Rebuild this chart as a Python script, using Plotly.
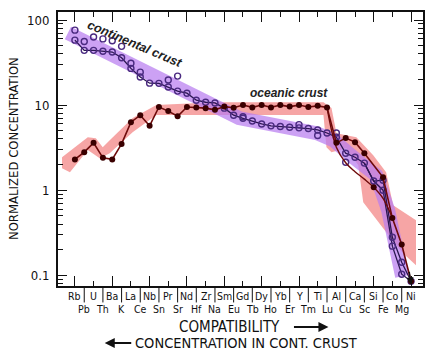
import math
import plotly.graph_objects as go

# ---------------- data ----------------
elements = ["Rb", "Pb", "U", "Th", "Ba", "K", "La", "Ce", "Nb", "Sn", "Pr", "Sr", "Nd", "Hf",
            "Zr", "Na", "Sm", "Eu", "Gd", "Tb", "Dy", "Ho", "Yb", "Er", "Y", "Tm", "Ti", "Lu",
            "Al", "Cu", "Ca", "Sc", "Si", "Fe", "Co", "Mg", "Ni"]

# continental crust (open circles, main line)
cont_line = [58, 44, 44, 43, 42, 36, 27, 21.4, 18.1, 18, 16.3, 14.6, 13.8, 11.4,
             10.8, 10.6, 9.2, 7.6, 7.0, 6.5, 6.0, 5.7, 5.6, 5.5, 5.4, 5.3, 5.1, 4.7,
             4.2, 2.72, 2.44, 2.08, 1.28, 1.31, 0.28, 0.142, 0.085]
# additional continental estimates (open circles off the line)
cont_extra = [76, 56, 63, 60, 57, 49, 31, 24.4, None, None, 19.7, 21.9, None, None,
              None, None, None, None, 7.3, None, None, None, None, None, 5.9, None, 4.4, None,
              4.7, 2.13, None, None, None, 1.0, 0.22, 0.103, None]
# secondary continental branch (lower right)
cont_alt = [None] * 31 + [2.08, 1.28, 1.0, 0.22, 0.103, 0.085]

# oceanic crust (filled dots, main line)
ocean_line = [2.3, 2.8, 3.6, 2.4, 2.3, 3.5, 6.3, 7.6, 5.7, 9.5, 8.5, 7.4, 9.5, 9.4,
              9.2, 8.8, 9.6, 9.3, 10.0, 9.4, 10.0, 9.4, 10.0, 9.6, 10.0, 9.5, 9.8, 9.4,
              3.6, 4.1, 3.67, 2.72, None, 1.42, 0.47, 0.23, 0.085]
# secondary oceanic branch (lower right)
ocean_alt = [None] * 27 + [9.4, 3.2, 2.1, 1.65, 1.35, 1.08, 0.8, 0.47, None, None]
ocean_alt_pts = [None] * 32 + [1.08, None, None, None, None]

# shaded fields (element index position, concentration)
pink_upper_x = [-1.38, 1.38, 2.24, 2.98, 3.73, 6.18, 8.73, 14.91, 26.62, 27.48, 28.01, 30.14,
                31.95, 33.33, 34.08, 36.53]
pink_upper_y = [2.44, 4.2, 4.09, 3.2, 3.87, 7.03, 10.0, 10.8, 10.8, 9.22, 4.68, 4.2,
                2.58, 1.63, 0.667, 0.444]
pink_lower_x = [36.53, 35.14, 33.01, 30.88, 30.35, 29.07, 27.48, 26.94, 26.62, 8.73, 6.18,
                3.73, 2.66, 1.38, -0.53, -1.38]
pink_lower_y = [0.131, 0.181, 0.357, 0.723, 1.97, 3.12, 2.8, 3.2, 7.63, 7.63, 4.81,
                2.72, 2.38, 2.96, 1.63, 1.81]

purple_x = [-0.75, 6.82, 14.70, 17.57, 25.88, 27.69, 29.82, 32.27, 33.55, 34.40, 35.04]
purple_y = [70.3, 27.2, 10.8, 7.03, 4.68, 3.87, 2.44, 1.5, 0.58, 0.172, 0.097]

y_ticks = [0.1, 1, 10, 100]
y_ticktext = ["0.1", "1", "10", "100"]

# ---------------- styling ----------------
FONT = "DejaVu Sans Condensed, Liberation Sans Narrow, Roboto Condensed, DejaVu Sans, sans-serif"
idx = list(range(len(elements)))
CONT_COL = "#2a1650"
OCEAN_COL = "#6e0a0a"

fig = go.Figure()

fig.add_trace(go.Scatter(
    x=pink_upper_x + pink_lower_x, y=pink_upper_y + pink_lower_y,
    mode="lines", fill="toself", fillcolor="rgba(244,140,140,0.78)",
    line=dict(width=0), hoverinfo="skip", showlegend=False))

fig.add_trace(go.Scatter(
    x=purple_x, y=purple_y, mode="lines",
    line=dict(color="rgba(185,125,240,0.72)", width=14),
    hoverinfo="skip", showlegend=False))

# continental
fig.add_trace(go.Scatter(x=idx, y=cont_alt, mode="lines",
                         line=dict(color=CONT_COL, width=1.3), showlegend=False))
fig.add_trace(go.Scatter(x=idx, y=cont_line, mode="lines+markers",
                         line=dict(color=CONT_COL, width=1.3),
                         marker=dict(symbol="circle-open", size=6, color="#4a2a80",
                                     line=dict(width=1.4)),
                         showlegend=False))
fig.add_trace(go.Scatter(x=idx, y=cont_extra, mode="markers",
                         marker=dict(symbol="circle-open", size=6, color="#4a2a80",
                                     line=dict(width=1.4)),
                         showlegend=False))

# oceanic
fig.add_trace(go.Scatter(x=idx, y=ocean_alt, mode="lines", line_shape="spline",
                         line=dict(color=OCEAN_COL, width=1.4), showlegend=False))
fig.add_trace(go.Scatter(x=idx, y=ocean_line, mode="lines+markers", connectgaps=True,
                         line=dict(color=OCEAN_COL, width=1.6),
                         marker=dict(symbol="circle", size=6, color="#3a0000"),
                         showlegend=False))
fig.add_trace(go.Scatter(x=idx, y=ocean_alt_pts, mode="markers",
                         marker=dict(symbol="circle", size=6, color="#3a0000"),
                         showlegend=False))

annotations = []
# element labels (two staggered rows)
for i, el in enumerate(elements):
    annotations.append(dict(x=i, y=-0.036 if i % 2 == 0 else -0.085, xref="x", yref="paper",
                            text=el, showarrow=False, xanchor="center", yanchor="middle",
                            font=dict(family=FONT, size=10.5, color="#111")))

shapes = []
for i in range(1, len(elements), 2):
    shapes.append(dict(type="line", xref="x", yref="paper", x0=i, x1=i, y0=-0.004, y1=-0.06,
                       line=dict(color="#111", width=1)))

# arrow at Ni
annotations.append(dict(x=36, y=math.log10(0.078), xref="x", yref="y", text="",
                        showarrow=True, arrowhead=2, arrowsize=1, arrowwidth=1.4,
                        arrowcolor="#111", ax=-2, ay=-14))

# curve labels
annotations.append(dict(x=6.4, y=math.log10(52), xref="x", yref="y",
                        text="<b><i>continental crust</i></b>", showarrow=False, textangle=23,
                        font=dict(family="Liberation Sans, Arial, sans-serif", size=12.5, color="#222")))
annotations.append(dict(x=22.9, y=math.log10(13.8), xref="x", yref="y",
                        text="<b><i>oceanic crust</i></b>", showarrow=False,
                        font=dict(family="Liberation Sans, Arial, sans-serif", size=12, color="#222")))

# y title
annotations.append(dict(x=-0.123, y=0.5, xref="paper", yref="paper", text="NORMALIZED CONCENTRATION",
                        textangle=-90, showarrow=False, xanchor="center", yanchor="middle",
                        font=dict(family=FONT, size=13, color="#111")))

# bottom captions with arrows
annotations.append(dict(x=0.469, y=-0.15, xref="paper", yref="paper", text="COMPATIBILITY",
                        showarrow=False, xanchor="center", yanchor="middle",
                        font=dict(family=FONT, size=15, color="#111")))
annotations.append(dict(x=0.741, y=-0.15, xref="paper", yref="paper", text="", showarrow=True,
                        arrowhead=2, arrowsize=1, arrowwidth=2, arrowcolor="#111", ax=-36, ay=0))
annotations.append(dict(x=0.516, y=-0.208, xref="paper", yref="paper",
                        text="CONCENTRATION IN CONT. CRUST",
                        showarrow=False, xanchor="center", yanchor="middle",
                        font=dict(family=FONT, size=14.5, color="#111")))
annotations.append(dict(x=0.128, y=-0.208, xref="paper", yref="paper", text="", showarrow=True,
                        arrowhead=2, arrowsize=1, arrowwidth=2, arrowcolor="#111", ax=28, ay=0))

fig.update_layout(
    width=430, height=351,
    margin=dict(l=58, r=5, t=12, b=65),
    paper_bgcolor="white", plot_bgcolor="white",
    annotations=annotations, shapes=shapes,
    showlegend=False,
)
fig.update_xaxes(range=[-1.81, 37.28], showgrid=False, zeroline=False,
                 showline=True, linecolor="#111", linewidth=2, mirror="ticks",
                 ticks="inside", ticklen=10, tickwidth=1.3, tickcolor="#111",
                 tick0=0, dtick=4, showticklabels=False,
                 minor=dict(ticks="inside", ticklen=5, tickwidth=1.3, tickcolor="#111",
                            tick0=0, dtick=2, showgrid=False))
fig.update_yaxes(type="log", range=[-1.126, 2.094], showgrid=False, zeroline=False,
                 showline=True, linecolor="#111", linewidth=2, mirror="ticks",
                 ticks="inside", ticklen=9, tickwidth=1.3, tickcolor="#111",
                 tickvals=y_ticks, ticktext=y_ticktext,
                 tickfont=dict(family=FONT, size=13, color="#111"), ticklabelstandoff=4,
                 minor=dict(ticks="inside", ticklen=5, tickwidth=1, tickcolor="#111",
                            dtick="D1", showgrid=False))

fig.write_html("out.html")
